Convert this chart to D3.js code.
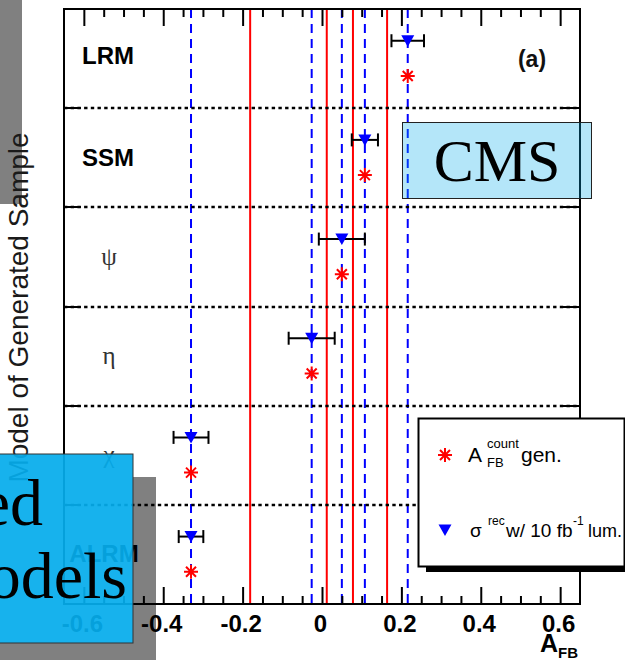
<!DOCTYPE html>
<html>
<head>
<meta charset="utf-8">
<script src="https://cdn.jsdelivr.net/npm/d3@7"></script>
<style>
  html, body { margin: 0; padding: 0; background: #fff; }
  svg { display: block; }
</style>
</head>
<body>
<svg id="chart" width="625" height="660"></svg>
<script>
// Models of the generated samples, top to bottom
const models = ["LRM", "SSM", "ψ", "η", "χ", "ALRM"];
// Counting asymmetry at generator level
const afbCountGen = [0.216, 0.108, 0.050, -0.026, -0.330, -0.330];
// Reconstructed asymmetry with 10 fb^-1 and its uncertainty
const afbRec = [0.216, 0.108, 0.050, -0.026, -0.330, -0.330];
const afbRecErr = [0.041, 0.033, 0.058, 0.058, 0.044, 0.031];
// Reference lines: reconstructed values and boundaries between models
const recLines = [-0.330, -0.026, 0.050, 0.108, 0.216];
const boundaryLines = [-0.181, 0.012, 0.078, 0.164];
// Axis ticks
const majorTicks = [-0.6, -0.4, -0.2, 0, 0.2, 0.4, 0.6];
const tickLabels = ["-0.6", "-0.4", "-0.2", "0", "0.2", "0.4", "0.6"];

const svg = d3.select("#chart");
const pLeft = 64, pRight = 580, pTop = 9, pBottom = 604;

const x = d3.scaleLinear().domain([-0.65, 0.65]).range([pLeft, pRight]);
const y = d3.scaleBand().domain(models).range([pTop, pBottom]);
const bw = y.bandwidth();

// drop shadows of the overlay boxes
svg.append("rect").attr("x", -100).attr("y", -10).attr("width", 122).attr("height", 214)
  .attr("fill", "#808080");
svg.append("rect").attr("x", -100).attr("y", 477).attr("width", 256).attr("height", 200)
  .attr("fill", "#808080");
svg.append("rect").attr("x", -100).attr("y", 454).attr("width", 233).attr("height", 189)
  .attr("fill", "#fff");

// y-axis title
svg.append("text")
  .attr("transform", `translate(28,${(pTop + pBottom) / 2 + 1}) rotate(-90)`)
  .attr("text-anchor", "middle")
  .attr("font-family", "Liberation Sans, Arial, sans-serif")
  .attr("font-size", 28)
  .attr("fill", "#1a1a1a")
  .text("Model of Generated Sample");

const plot = svg.append("g");

// vertical reference lines
plot.selectAll("line.rec").data(recLines).join("line")
  .attr("class", "rec")
  .attr("x1", d => x(d)).attr("x2", d => x(d))
  .attr("y1", pTop).attr("y2", pBottom)
  .attr("stroke", "#0000ff").attr("stroke-width", 2)
  .attr("stroke-dasharray", "9,6");
plot.selectAll("line.bound").data(boundaryLines).join("line")
  .attr("class", "bound")
  .attr("x1", d => x(d)).attr("x2", d => x(d))
  .attr("y1", pTop).attr("y2", pBottom)
  .attr("stroke", "#ff0000").attr("stroke-width", 2);

// row separators
const seps = models.slice(1).map(m => Math.round(y(m)));
plot.selectAll("line.sep").data(seps).join("line")
  .attr("class", "sep")
  .attr("x1", pLeft).attr("x2", pRight)
  .attr("y1", d => d).attr("y2", d => d)
  .attr("stroke", "#000").attr("stroke-width", 2.4)
  .attr("stroke-dasharray", "3.4,3.3");
plot.selectAll("line.sepL").data(seps).join("line")
  .attr("class", "sepL")
  .attr("x1", pLeft).attr("x2", pLeft + 17)
  .attr("y1", d => d).attr("y2", d => d)
  .attr("stroke", "#000").attr("stroke-width", 2);
plot.selectAll("line.sepR").data(seps).join("line")
  .attr("class", "sepR")
  .attr("x1", pRight - 17).attr("x2", pRight)
  .attr("y1", d => d).attr("y2", d => d)
  .attr("stroke", "#000").attr("stroke-width", 2);

// axes
const minorTicks = d3.range(-12, 13).map(i => i * 0.05)
  .filter(v => !majorTicks.some(t => Math.abs(t - v) < 1e-6));

function styleAxis(g) {
  g.select(".domain").remove();
  g.selectAll(".tick line").attr("stroke", "#000").attr("stroke-width", 2);
}

plot.append("g").attr("transform", `translate(0,${pBottom})`)
  .call(d3.axisBottom(x).tickValues(majorTicks).tickSize(-17).tickPadding(11)
    .tickFormat((d, i) => tickLabels[i]))
  .call(styleAxis)
  .call(g => g.selectAll("text")
    .attr("font-family", "Liberation Sans, Arial, sans-serif")
    .attr("font-weight", "bold").attr("font-size", 24).attr("fill", "#000")
    .attr("dx", "-2"));
plot.append("g").attr("transform", `translate(0,${pBottom})`)
  .call(d3.axisBottom(x).tickValues(minorTicks).tickSize(-8).tickFormat(""))
  .call(styleAxis);
plot.append("g").attr("transform", `translate(0,${pTop})`)
  .call(d3.axisTop(x).tickValues(majorTicks).tickSize(-17).tickFormat(""))
  .call(styleAxis);
plot.append("g").attr("transform", `translate(0,${pTop})`)
  .call(d3.axisTop(x).tickValues(minorTicks).tickSize(-8).tickFormat(""))
  .call(styleAxis);

// frame
plot.append("rect")
  .attr("x", pLeft).attr("y", pTop).attr("width", pRight - pLeft).attr("height", pBottom - pTop)
  .attr("fill", "none").attr("stroke", "#000").attr("stroke-width", 2);

// row labels
const isAcronym = d => /^[A-Z]+$/.test(d);
plot.selectAll("text.model").data(models).join("text")
  .attr("class", "model")
  .attr("x", d => isAcronym(d) ? (d.length > 3 ? 104 : 108) : 109)
  .attr("y", (d, i) => y(d) + bw / 2 + (i === 0 ? 5 : 8))
  .attr("text-anchor", "middle")
  .attr("font-family", d => isAcronym(d) ? "Liberation Sans, Arial, sans-serif" : "Liberation Serif, Times New Roman, serif")
  .attr("font-weight", d => isAcronym(d) ? "bold" : "normal")
  .attr("font-size", d => isAcronym(d) ? 24 : 25)
  .attr("fill", d => isAcronym(d) ? "#000" : "#333")
  .text(d => d);

// panel tag
plot.append("text")
  .attr("x", 532).attr("y", 67)
  .attr("text-anchor", "middle")
  .attr("font-family", "Liberation Sans, Arial, sans-serif")
  .attr("font-weight", "bold").attr("font-size", 23).attr("fill", "#111")
  .text("(a)");

// x-axis title
const xt = plot.append("text").attr("x", 540).attr("y", 652)
  .attr("font-family", "Liberation Sans, Arial, sans-serif")
  .attr("font-weight", "bold").attr("font-size", 25).attr("fill", "#000");
xt.append("tspan").text("A");
xt.append("tspan").attr("dy", 6).attr("font-size", 15).text("FB");

// markers
const triPath = "M-6.5,-5.5L6.5,-5.5L0,6Z";
const starPath = "M-7,0L7,0M0,-7L0,7M-5,-5L5,5M-5,5L5,-5";

const rows = models.map((m, i) => ({
  m, gen: afbCountGen[i], rec: afbRec[i], err: afbRecErr[i]
}));

const eb = plot.selectAll("g.eb").data(rows).join("g").attr("class", "eb")
  .attr("transform", d => `translate(0,${y(d.m) + bw * 0.32})`);
eb.append("line")
  .attr("x1", d => x(d.rec - d.err)).attr("x2", d => x(d.rec + d.err))
  .attr("stroke", "#000").attr("stroke-width", 2);
eb.append("line")
  .attr("x1", d => x(d.rec - d.err)).attr("x2", d => x(d.rec - d.err))
  .attr("y1", -6.5).attr("y2", 6.5)
  .attr("stroke", "#000").attr("stroke-width", 2);
eb.append("line")
  .attr("x1", d => x(d.rec + d.err)).attr("x2", d => x(d.rec + d.err))
  .attr("y1", -6.5).attr("y2", 6.5)
  .attr("stroke", "#000").attr("stroke-width", 2);
eb.append("path")
  .attr("d", triPath)
  .attr("transform", d => `translate(${x(d.rec)},0)`)
  .attr("fill", "#0000ff");

plot.selectAll("path.gen").data(rows).join("path")
  .attr("class", "gen")
  .attr("d", starPath)
  .attr("transform", d => `translate(${x(d.gen)},${y(d.m) + bw * 0.675})`)
  .attr("stroke", "#ff0000").attr("stroke-width", 2).attr("fill", "none");

// legend
const lg = svg.append("g");
lg.append("rect").attr("x", 426).attr("y", 424).attr("width", 206).attr("height", 148)
  .attr("fill", "#000");
lg.append("rect").attr("x", 418.5).attr("y", 418.5).attr("width", 206).attr("height", 148)
  .attr("fill", "#fff").attr("stroke", "#000").attr("stroke-width", 2);
lg.append("path").attr("d", starPath).attr("transform", "translate(445,455)")
  .attr("stroke", "#ff0000").attr("stroke-width", 2).attr("fill", "none");
lg.append("path").attr("d", triPath).attr("transform", "translate(445,530)")
  .attr("fill", "#0000ff");
const lfont = "Liberation Sans, Arial, sans-serif";
lg.append("text").attr("x", 468).attr("y", 462).attr("font-family", lfont)
  .attr("font-size", 21).attr("fill", "#000").text("A");
lg.append("text").attr("x", 487).attr("y", 448).attr("font-family", lfont)
  .attr("font-size", 13).attr("fill", "#000").text("count");
lg.append("text").attr("x", 487).attr("y", 467).attr("font-family", lfont)
  .attr("font-size", 13).attr("fill", "#000").text("FB");
lg.append("text").attr("x", 521).attr("y", 462).attr("font-family", lfont)
  .attr("font-size", 21).attr("fill", "#000").text("gen.");
const l2 = lg.append("text").attr("y", 537).attr("font-family", lfont)
  .attr("font-size", 19).attr("fill", "#000");
l2.append("tspan").attr("x", 470).text("σ");
l2.append("tspan").attr("x", 488).attr("y", 525).attr("font-size", 12).text("rec");
l2.append("tspan").attr("x", 506).attr("y", 537).text("w/ 10 fb");
l2.append("tspan").attr("x", 573).attr("y", 525).attr("font-size", 12).text("-1");
l2.append("tspan").attr("x", 588).attr("y", 537).attr("font-size", 18).text("lum.");

// CMS label box
svg.append("rect").attr("x", 402.5).attr("y", 122.5).attr("width", 189).attr("height", 76)
  .attr("fill", "#05acec").attr("fill-opacity", 0.3)
  .attr("stroke", "#222").attr("stroke-width", 1);
svg.append("text").attr("x", 497).attr("y", 181)
  .attr("text-anchor", "middle")
  .attr("font-family", "Liberation Serif, Times New Roman, serif")
  .attr("font-size", 60).attr("fill", "#000")
  .text("CMS");

// foreground box
svg.append("rect").attr("x", -100).attr("y", 454).attr("width", 233).attr("height", 189)
  .attr("fill", "#05acec").attr("fill-opacity", 0.93)
  .attr("stroke", "#333").attr("stroke-width", 1);
svg.append("text").attr("x", 43).attr("y", 525).attr("text-anchor", "end")
  .attr("font-family", "Liberation Serif, Times New Roman, serif")
  .attr("font-size", 66).attr("fill", "#000").text("ed");
svg.append("text").attr("x", 127).attr("y", 598).attr("text-anchor", "end")
  .attr("font-family", "Liberation Serif, Times New Roman, serif")
  .attr("font-size", 66).attr("fill", "#000").text("odels");
</script>
</body>
</html>
